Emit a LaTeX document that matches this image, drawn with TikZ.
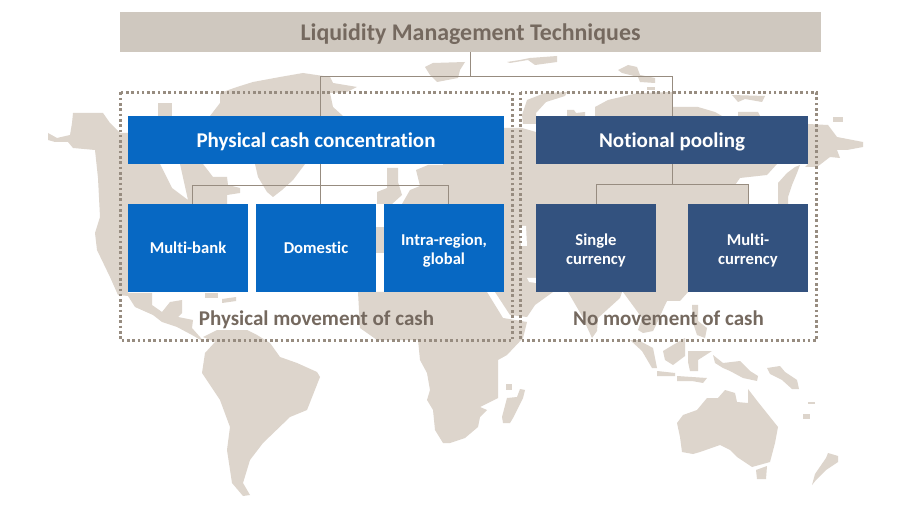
\documentclass[tikz,border=0pt]{standalone}
\usepackage{fontspec}
\setmainfont[Ligatures=NoCommon]{Carlito}
\definecolor{land}{HTML}{DDD5CC}
\definecolor{titlebg}{HTML}{CFC8BF}
\definecolor{ink}{HTML}{75695F}
\definecolor{rule}{HTML}{978C80}
\definecolor{blueA}{HTML}{0768C3}
\definecolor{blueB}{HTML}{33527F}
\tikzset{
  landpart/.style={fill=land,draw=none},
  titlebox/.style={fill=titlebg,minimum width=701pt,minimum height=40pt,inner sep=0pt,text height=18pt,text depth=0pt,text=ink,font=\fontsize{23.9}{26}\selectfont\bfseries},
  headA/.style={fill=blueA,minimum width=376pt,minimum height=48pt,inner sep=0pt,text height=16pt,text depth=0.6pt,text=white,font=\fontsize{21}{24}\selectfont\bfseries},
  headB/.style={headA,fill=blueB,minimum width=272pt},
  subA/.style={fill=blueA,minimum width=120pt,minimum height=88pt,inner sep=0pt,text=white,align=center,font=\fontsize{16.6}{19}\selectfont\bfseries},
  subB/.style={subA,fill=blueB},
  group/.style={draw=rule,line width=2.4pt,dash pattern=on 2.6pt off 2.7pt},
  caption/.style={text=ink,inner sep=0pt,text height=16pt,text depth=0pt,font=\fontsize{21}{24}\selectfont\bfseries},
  link/.style={draw=rule,line width=0.9pt}
}
\newcommand{\toproom}{\rule{0pt}{16pt}}
\begin{document}
\begin{tikzpicture}[x=1pt,y=-1pt]
\useasboundingbox (0,0) rectangle (920,510);
\fill[white] (0,0) rectangle (920,510);
% Alaska and western North America
\fill[landpart] (48,133) -- (57,138) -- (70,135) -- (72,123) -- (73,113) -- (103,113) -- (110,123) -- (120,133) -- (128,133) -- (128,293) -- (152,293) -- (152,305) -- (162,312) -- (170,302) -- (182,300) -- (182,313) -- (178,317) -- (193,320) -- (192,328) -- (200,337) -- (204,342) -- (192,335) -- (177,327) -- (162,322) -- (153,315) -- (135,307) -- (128,296) -- (118,295) -- (110,277) -- (97,250) -- (95,233) -- (100,217) -- (98,178) -- (95,150) -- (73,148) -- (68,142) -- (55,142) -- (48,140) -- cycle;
% Canada and United States behind the boxes
\fill[landpart] (128,164) -- (160,164) -- (172,188) -- (188,200) -- (180,164) -- (203,164) -- (213,177) -- (227,177) -- (228,185) -- (240,188) -- (240,193) -- (227,195) -- (227,204) -- (128,204) -- cycle;
\fill[landpart] (158,103) -- (172,103) -- (172,116) -- (158,116) -- cycle;
% Greenland
\fill[landpart] (210,116) -- (220,103) -- (220,93) -- (237,87) -- (253,82) -- (280,77) -- (303,73) -- (330,77) -- (333,83) -- (357,87) -- (347,92) -- (330,93) -- (333,107) -- (343,116) -- cycle;
\fill[landpart] (255,164) -- (305,164) -- (293,180) -- (282,190) -- (273,197) -- (267,192) -- (258,177) -- cycle;
% Caribbean islands
\fill[landpart] (205,293) -- (218,293) -- (218,298) -- (205,298) -- cycle;
\fill[landpart] (222,299) -- (236,297) -- (236,301) -- (222,303) -- cycle;
% South America
\fill[landpart] (203,337) -- (217,330) -- (247,330) -- (257,335) -- (270,343) -- (280,357) -- (297,363) -- (317,372) -- (320,377) -- (307,410) -- (290,417) -- (263,443) -- (250,460) -- (243,483) -- (250,495) -- (243,496) -- (232,483) -- (227,450) -- (230,427) -- (220,400) -- (202,373) -- (205,353) -- (215,342) -- cycle;
% United Kingdom and Europe
\fill[landpart] (387,168) -- (398,168) -- (398,182) -- (402,195) -- (392,204) -- (377,204) -- (377,192) -- (387,188) -- cycle;
\fill[landpart] (402,204) -- (410,190) -- (420,186) -- (416,170) -- (428,165) -- (443,165) -- (445,186) -- (445,204) -- cycle;
% Eurasia behind the boxes
\fill[landpart] (443,164) -- (536,164) -- (536,204) -- (443,204) -- cycle;
\fill[landpart] (504,128) -- (522,128) -- (536,132) -- (536,164) -- (504,164) -- cycle;
\fill[landpart] (504,204) rectangle (536,292);
\fill[landpart] (536,164) -- (777,164) -- (767,175) -- (740,178) -- (735,185) -- (748,185) -- (748,204) -- (536,204) -- cycle;
\fill[landpart] (656,204) rectangle (688,292);
% Novaya Zemlya arc
\fill[landpart] (523,124) -- (522,115) -- (527,100) -- (545,93) -- (567,92) -- (565,96) -- (546,102) -- (536,113) -- (536,124) -- cycle;
% Siberia north coast
\fill[landpart] (595,116) -- (595,107) -- (608,100) -- (638,93) -- (672,92) -- (672,107) -- (698,107) -- (715,112) -- (722,116) -- cycle;
\fill[landpart] (567,110) -- (574,110) -- (576,113) -- (585,112) -- (585,116) -- (567,116) -- cycle;
\fill[landpart] (732,95) -- (765,96) -- (762,102) -- (745,99) -- (738,102) -- cycle;
\fill[landpart] (738,112) -- (758,112) -- (760,116) -- (738,116) -- cycle;
% Chukotka and Kamchatka
\fill[landpart] (808,124) -- (828,125) -- (837,137) -- (863,142) -- (863,147) -- (847,150) -- (837,150) -- (840,158) -- (830,157) -- (817,167) -- (805,167) -- (808,164) -- cycle;
\fill[landpart] (833,117) -- (843,117) -- (843,122) -- (833,122) -- cycle;
\fill[landpart] (778,204) -- (778,183) -- (787,173) -- (795,167) -- (800,165) -- (797,173) -- (792,185) -- (788,197) -- (788,204) -- cycle;
% Arctic islands
\fill[landpart] (425,67) -- (433,63) -- (465,62) -- (460,70) -- (458,78) -- (437,82) -- (430,75) -- cycle;
\fill[landpart] (507,62) -- (520,60) -- (530,58) -- (557,56) -- (557,62) -- (535,65) -- (528,60) -- (510,63) -- cycle;
\fill[landpart] (618,70) -- (628,65) -- (637,67) -- (640,75) -- (655,78) -- (655,83) -- (640,82) -- (638,77) -- (622,73) -- cycle;
\fill[landpart] (647,87) -- (655,87) -- (655,90) -- (647,90) -- cycle;
% Africa
\fill[landpart] (358,292) -- (487,292) -- (503,318) -- (527,322) -- (523,338) -- (507,355) -- (498,360) -- (498,398) -- (480,407) -- (487,410) -- (480,417) -- (478,427) -- (465,438) -- (450,443) -- (443,443) -- (435,430) -- (433,410) -- (427,400) -- (430,390) -- (427,373) -- (420,360) -- (418,340) -- (377,340) -- (360,328) -- cycle;
\fill[landpart] (376,227) rectangle (384,253);
% Arabia
\fill[landpart] (495,292) -- (553,292) -- (535,305) -- (527,317) -- (510,315) -- cycle;
% White inlets near the frames
\fill[white] (519,226) -- (526,226) -- (527,246) -- (521,246) -- cycle;
\fill[white] (527,278) -- (536,278) -- (536,283) -- (529,282) -- cycle;
% Madagascar
\fill[landpart] (503,423) -- (502,417) -- (507,398) -- (517,397) -- (520,389) -- (525,390) -- (523,398) -- (513,418) -- (510,423) -- cycle;
\fill[landpart] (506,384) -- (512,384) -- (512,390) -- (506,390) -- cycle;
% India and South East Asia
\fill[landpart] (568,292) -- (622,292) -- (620,298) -- (598,318) -- (597,331) -- (592,338) -- (582,316) -- cycle;
\fill[landpart] (623,292) -- (688,292) -- (680,301) -- (667,301) -- (665,305) -- (657,323) -- (653,331) -- (643,333) -- (638,330) -- (642,318) -- cycle;
\fill[landpart] (692,305) -- (698,305) -- (698,321) -- (707,328) -- (705,338) -- (697,335) -- (693,323) -- cycle;
% Malaysia and Sumatra
\fill[landpart] (630,340) -- (638,340) -- (653,348) -- (657,368) -- (652,368) -- (642,351) -- cycle;
% Borneo, Sulawesi, Java, Timor, New Guinea
\fill[landpart] (663,351) -- (673,345) -- (685,338) -- (685,356) -- (673,365) -- (665,360) -- cycle;
\fill[landpart] (688,351) -- (712,351) -- (698,360) -- (698,371) -- (690,371) -- (688,362) -- cycle;
\fill[landpart] (657,371) -- (675,373) -- (675,376) -- (657,376) -- cycle;
\fill[landpart] (677,376) -- (707,378) -- (703,383) -- (692,381) -- (677,381) -- cycle;
\fill[landpart] (713,355) -- (723,363) -- (740,361) -- (750,371) -- (758,376) -- (757,381) -- (743,378) -- (730,371) -- (723,368) -- (715,363) -- cycle;
% Pacific islands
\fill[landpart] (767,368) -- (780,366) -- (785,372) -- (797,380) -- (799,389) -- (792,389) -- (782,380) -- (770,374) -- cycle;
\fill[landpart] (803,414) -- (810,414) -- (810,419) -- (803,419) -- cycle;
\fill[landpart] (808,402) -- (815,402) -- (815,404) -- (808,404) -- cycle;
% Australia, Tasmania, New Zealand
\fill[landpart] (677,423) -- (683,415) -- (697,410) -- (707,398) -- (718,398) -- (725,390) -- (735,393) -- (737,402) -- (748,403) -- (748,389) -- (758,402) -- (778,427) -- (775,443) -- (770,462) -- (752,467) -- (737,457) -- (730,450) -- (720,445) -- (700,452) -- (693,454) -- (682,452) -- (680,437) -- cycle;
\fill[landpart] (756,470) -- (767,466) -- (766,479) -- (757,479) -- cycle;
\fill[landpart] (812,485) -- (816,480) -- (826,470) -- (838,462) -- (838,456) -- (828,453) -- (826,458) -- (815,474) -- cycle;
% Diagram
\node[titlebox] (title) at (470.5,32) {Liquidity Management Techniques};
\node[headA] (phys) at (316,140) {Physical cash concentration};
\node[headB] (noti) at (672,140) {Notional pooling};
\node[subA,text height=12pt,text depth=1.4pt] (mb) at (188,248) {Multi-bank};
\node[subA,text height=12pt,text depth=1.4pt] (dom) at (316,248) {Domestic};
\node[subA] (intra) at (444,248) {\toproom Intra-region,\\global};
\node[subB] (single) at (596,248) {\toproom Single\\currency};
\node[subB] (multi) at (748,248) {\toproom Multi-\\currency};
\node[caption] (capA) at (316.5,318) {Physical movement of cash};
\node[caption] (capB) at (668.5,318) {No movement of cash};
\draw[group] (120.5,92.5) rectangle (512.5,340.5);
\draw[group] (520.5,92.5) rectangle (816.5,340.5);
\coordinate (topbus) at (470.5,76);
\coordinate (physup) at (320.5,76);
\coordinate (notiup) at (672.5,76);
\coordinate (busA) at (320.5,185);
\coordinate (busB) at (672.5,185);
\draw[link] (title.south -| topbus) -- (topbus);
\draw[link] (phys.north -| physup) -- (physup) -- (notiup) -- (noti.north -| notiup);
\draw[link] (phys.south -| busA) -- (dom.north -| busA);
\draw[link] (mb.north -| 192.5,0) -- (192.5,185) -- (448,185) -- (intra.north -| 448,0);
\draw[link] (noti.south -| busB) -- (busB);
\draw[link] (single.north -| 596.5,0) -- (596.5,184.5) -- (748.5,184.5) -- (multi.north -| 748.5,0);
\end{tikzpicture}
\end{document}
